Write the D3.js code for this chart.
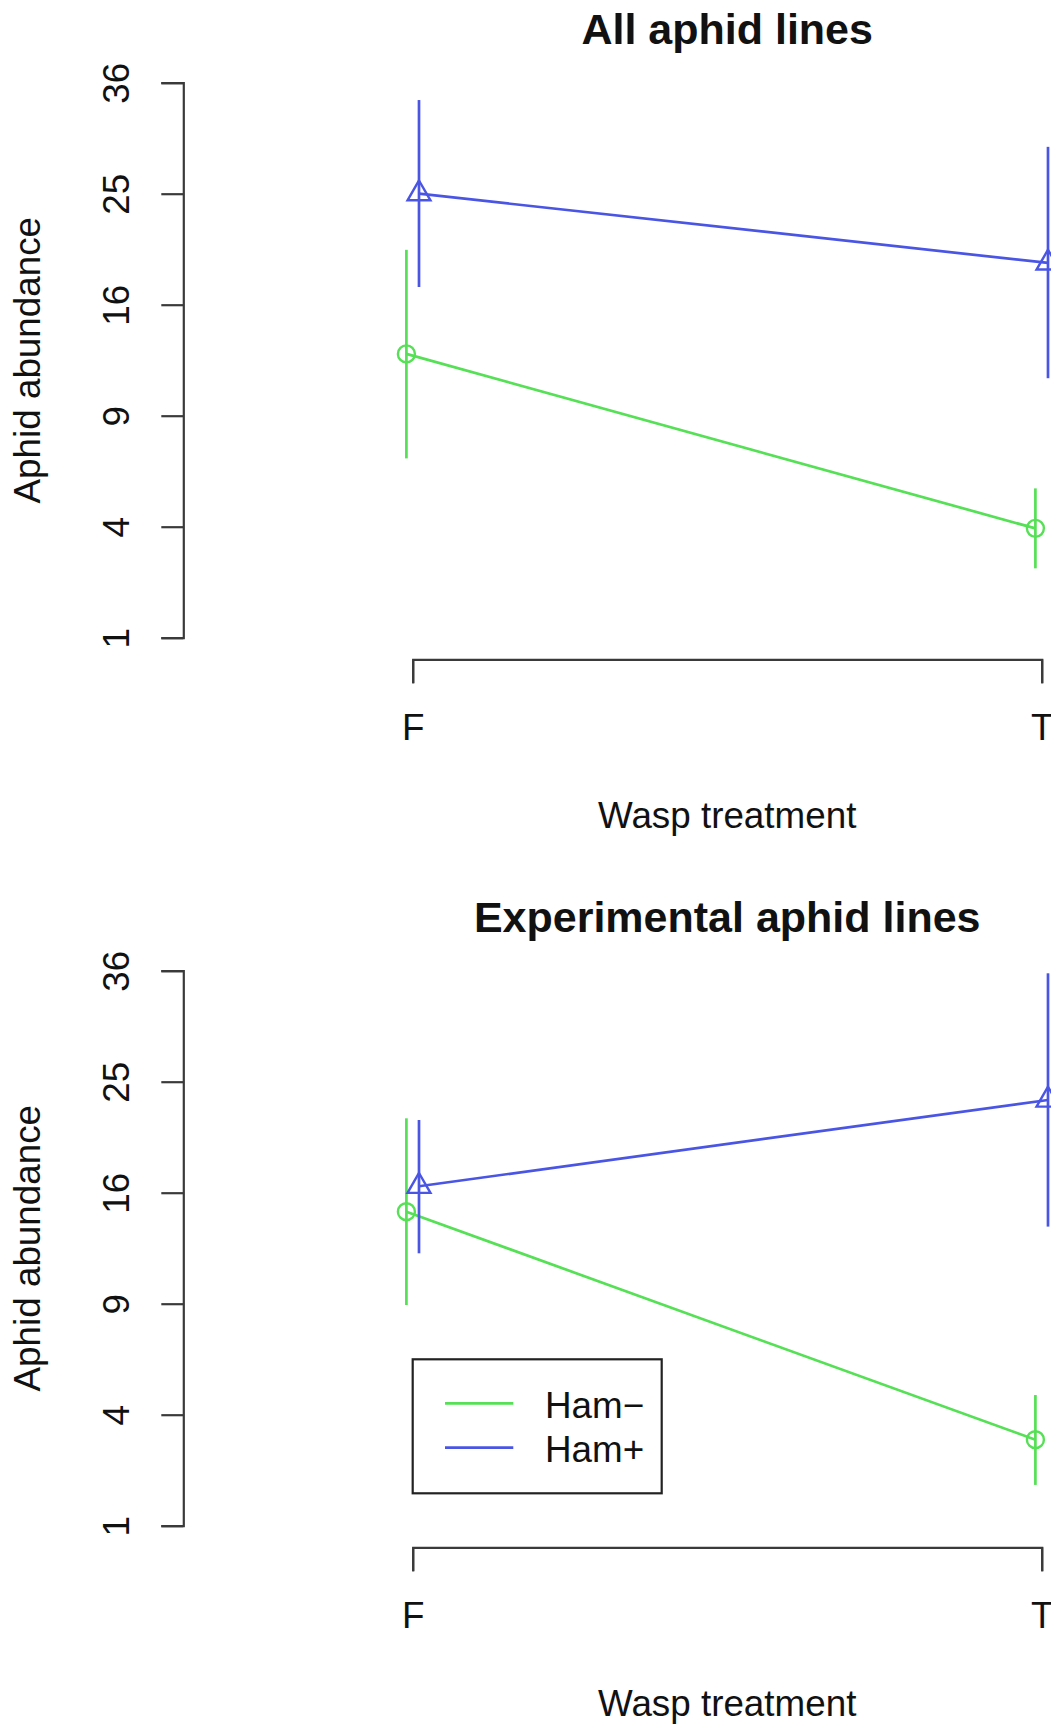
<!DOCTYPE html>
<html>
<head>
<meta charset="utf-8">
<script src="https://cdn.jsdelivr.net/npm/d3@7"></script>
<style>
  html, body { margin: 0; padding: 0; background: #fff; }
  svg { display: block; }
  text { font-family: "Liberation Sans", Arial, Helvetica, sans-serif; fill: #111; }
</style>
</head>
<body>
<div id="chart"></div>
<script>
// ---------------- data ----------------
const categories = ["F", "T"];
const seriesNames = ["Ham−", "Ham+"];
const panelTitles = ["All aphid lines", "Experimental aphid lines"];
const yTicks = [1, 4, 9, 16, 25, 36];
const xLabel = "Wasp treatment";
const yLabel = "Aphid abundance";

// All aphid lines
const allMeanMinus = [12.65, 3.94];
const allLowMinus  = [6.84, 2.64];
const allHighMinus = [20.2, 5.50];
const allMeanPlus  = [25.0, 19.15];
const allLowPlus   = [17.3, 11.14];
const allHighPlus  = [34.15, 29.4];

// Experimental aphid lines
const expMeanMinus = [14.66, 3.15];
const expLowMinus  = [8.93, 1.87];
const expHighMinus = [21.81, 4.74];
const expMeanPlus  = [16.47, 23.38];
const expLowPlus   = [11.93, 13.65];
const expHighPlus  = [21.67, 35.72];

// ---------------- layout / style ----------------
const W = 1051, H = 1726;
const panelOffset = 888;
const colors = ["#55e055", "#4a55e4"];
const dodge = [-6.3, 6.3];
const axisColor = "#3a3a3a";
const markR = 8.5;
const axisFont = "36.8px";
const titleFont = "43px";

const panels = [
  { title: panelTitles[0], legend: false,
    series: [
      { name: seriesNames[0], mean: allMeanMinus, low: allLowMinus, high: allHighMinus },
      { name: seriesNames[1], mean: allMeanPlus,  low: allLowPlus,  high: allHighPlus }
    ]},
  { title: panelTitles[1], legend: true,
    series: [
      { name: seriesNames[0], mean: expMeanMinus, low: expLowMinus, high: expHighMinus },
      { name: seriesNames[1], mean: expMeanPlus,  low: expLowPlus,  high: expHighPlus }
    ]}
];

const svg = d3.select("#chart").append("svg")
  .attr("width", W).attr("height", H)
  .attr("viewBox", `0 0 ${W} ${H}`);

svg.append("rect").attr("width", W).attr("height", H).attr("fill", "#fff");

const x = d3.scalePoint().domain(categories).range([412.7, 1041.7]).padding(0);
const xMid = (x.range()[0] + x.range()[1]) / 2;

// triangle like R pch=2
function triPath(r) {
  const TRC0 = 1.5551203, TRC1 = 1.3467737, TRC2 = 0.7775602;
  return `M0,${-TRC0 * r}L${TRC1 * r},${TRC2 * r}L${-TRC1 * r},${TRC2 * r}Z`;
}

panels.forEach((p, pi) => {
  const off = pi * panelOffset;
  const g = svg.append("g");
  const y = d3.scaleSqrt().domain([1, 36]).range([637.7 + off, 82.7 + off]);

  // Title
  g.append("text")
    .attr("x", xMid).attr("y", 44 + off)
    .attr("text-anchor", "middle")
    .style("font-size", titleFont).style("font-weight", "bold")
    .text(p.title);

  // Y axis
  const yAxis = g.append("g")
    .attr("transform", `translate(183.3,0)`)
    .style("color", axisColor)
    .call(d3.axisLeft(y).tickValues(yTicks).tickSize(22).tickSizeOuter(22).tickFormat(d3.format("d")));
  yAxis.selectAll("path, line").attr("stroke-width", 2.2);
  yAxis.selectAll("text")
    .attr("x", null).attr("dy", null)
    .attr("transform", "translate(-54,0) rotate(-90)")
    .attr("text-anchor", "middle")
    .style("font-size", axisFont)
    .attr("fill", "#111");

  // Y label
  const yMid = (y.range()[0] + y.range()[1]) / 2;
  g.append("text")
    .attr("transform", `translate(40,${yMid}) rotate(-90)`)
    .attr("text-anchor", "middle")
    .style("font-size", axisFont)
    .text(yLabel);

  // X axis
  const xAxisY = 659.3 + off;
  const xAxis = g.append("g")
    .attr("transform", `translate(0,${xAxisY})`)
    .style("color", axisColor)
    .call(d3.axisBottom(x).tickSize(24).tickSizeOuter(24));
  xAxis.selectAll("path, line").attr("stroke-width", 2.2);
  xAxis.selectAll("text")
    .attr("y", 80.7).attr("dy", null)
    .style("font-size", axisFont)
    .attr("fill", "#111");

  // X label
  g.append("text")
    .attr("x", xMid).attr("y", 828 + off)
    .attr("text-anchor", "middle")
    .style("font-size", axisFont)
    .text(xLabel);

  // Series
  p.series.forEach((s, si) => {
    const pts = categories.map((c, i) => ({
      x: x(c) + dodge[si], m: y(s.mean[i]), lo: y(s.low[i]), hi: y(s.high[i])
    }));
    const sg = g.append("g");
    sg.selectAll("line.err").data(pts).join("line")
      .attr("class", "err")
      .attr("x1", d => d.x).attr("x2", d => d.x)
      .attr("y1", d => d.lo).attr("y2", d => d.hi)
      .attr("stroke", colors[si]).attr("stroke-width", 2.7);
    sg.append("path")
      .datum(pts)
      .attr("d", d3.line().x(d => d.x).y(d => d.m))
      .attr("fill", "none")
      .attr("stroke", colors[si]).attr("stroke-width", 2.7);
    if (si === 0) {
      sg.selectAll("circle").data(pts).join("circle")
        .attr("cx", d => d.x).attr("cy", d => d.m).attr("r", markR)
        .attr("fill", "none").attr("stroke", colors[si]).attr("stroke-width", 2.4);
    } else {
      sg.selectAll("path.tri").data(pts).join("path")
        .attr("class", "tri")
        .attr("transform", d => `translate(${d.x},${d.m})`)
        .attr("d", triPath(markR))
        .attr("fill", "none").attr("stroke", colors[si]).attr("stroke-width", 2.4);
    }
  });

  // Legend
  if (p.legend) {
    const lg = g.append("g");
    lg.append("rect")
      .attr("x", 412.7).attr("y", 1359.3)
      .attr("width", 661.7 - 412.7).attr("height", 1493.3 - 1359.3)
      .attr("fill", "none").attr("stroke", "#222").attr("stroke-width", 2.2);
    const rowY = [1403.3, 1447.7];
    seriesNames.forEach((n, i) => {
      lg.append("line")
        .attr("x1", 445).attr("x2", 513.3)
        .attr("y1", rowY[i]).attr("y2", rowY[i])
        .attr("stroke", colors[i]).attr("stroke-width", 2.7);
      lg.append("text")
        .attr("x", 545).attr("y", rowY[i] + 14.5)
        .style("font-size", axisFont)
        .text(n);
    });
  }
});
</script>
</body>
</html>
